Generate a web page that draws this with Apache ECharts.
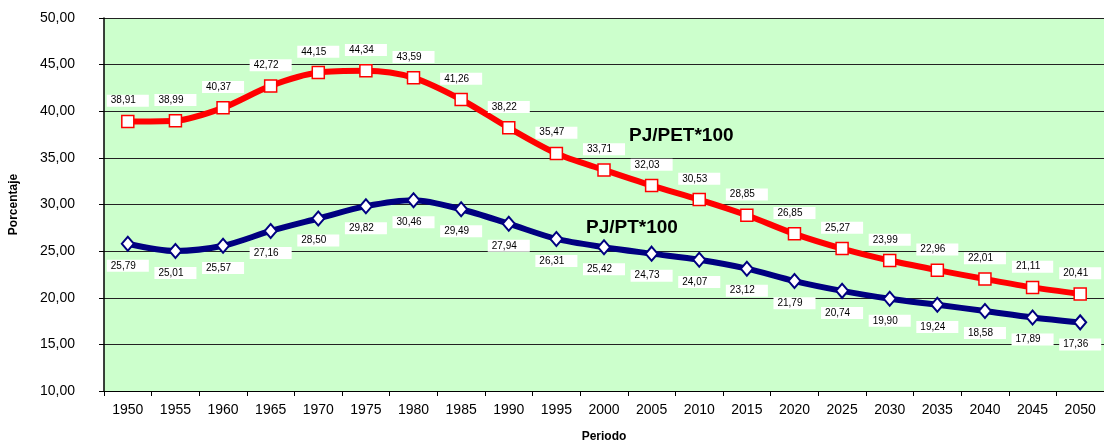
<!DOCTYPE html>
<html><head><meta charset="utf-8">
<script src="https://cdn.jsdelivr.net/npm/echarts@6/dist/echarts.min.js"></script>
<style>html,body{margin:0;padding:0;background:#fff}#c{width:1104px;height:448px}</style>
</head><body><div id="c"></div>
<script>
var categories = ['1950','1955','1960','1965','1970','1975','1980','1985','1990','1995','2000','2005','2010','2015','2020','2025','2030','2035','2040','2045','2050'];
var pjPet = [38.91,38.99,40.37,42.72,44.15,44.34,43.59,41.26,38.22,35.47,33.71,32.03,30.53,28.85,26.85,25.27,23.99,22.96,22.01,21.11,20.41];
var pjPt = [25.79,25.01,25.57,27.16,28.50,29.82,30.46,29.49,27.94,26.31,25.42,24.73,24.07,23.12,21.79,20.74,19.90,19.24,18.58,17.89,17.36];
var yMin = 10, yMax = 50, yStep = 5;
var FF = 'Arial, "Liberation Sans", sans-serif';
function fmt(v){ return v.toFixed(2).replace('.', ','); }
var chart = echarts.init(document.getElementById('c'), null, {renderer:'canvas'});
var lbl = {
  show:true, fontFamily:FF, fontSize:10, color:'#000', backgroundColor:'#fff',
  padding:[1,13,1,4], lineHeight:10, distance:8,
  formatter:function(p){ return fmt(p.value); }
};
chart.setOption({
  animation:false,
  grid:{left:104, right:0, top:18, bottom:56, show:true, backgroundColor:'#ccffcc', borderWidth:0},
  xAxis:{
    type:'category', data:categories, boundaryGap:true,
    name:'Periodo', nameLocation:'middle', nameGap:40,
    nameTextStyle:{fontFamily:FF, fontSize:12, fontWeight:'bold', color:'#000'},
    axisLine:{lineStyle:{color:'#000', width:1}},
    axisTick:{show:true, length:5, inside:false, lineStyle:{color:'#000'}},
    axisLabel:{fontFamily:FF, fontSize:14, color:'#000', margin:12},
    splitLine:{show:false}
  },
  yAxis:{
    type:'value', min:yMin, max:yMax, interval:yStep,
    name:'Porcentaje', nameLocation:'middle', nameGap:84, nameRotate:90,
    nameTextStyle:{fontFamily:FF, fontSize:12, fontWeight:'bold', color:'#000'},
    axisLine:{show:true, lineStyle:{color:'#000', width:1.5}},
    axisTick:{show:true, length:5, lineStyle:{color:'#000'}},
    axisLabel:{fontFamily:FF, fontSize:14, color:'#000', margin:29, formatter:function(v){return fmt(v);}},
    splitLine:{show:true, lineStyle:{color:'#222', width:1}}
  },
  series:[
    {
      name:'PJ/PT*100', type:'line', data:pjPt, smooth:0.3,
      lineStyle:{color:'#000080', width:6},
      itemStyle:{color:'#fff', borderColor:'#000080', borderWidth:2},
      symbol:'diamond', symbolSize:[12,14],
      label:Object.assign({}, lbl, {position:'bottom', distance:8}),
      z:2
    },
    {
      name:'PJ/PET*100', type:'line', data:pjPet, smooth:0.3,
      lineStyle:{color:'#ff0000', width:6},
      itemStyle:{color:'#fff', borderColor:'#ff0000', borderWidth:1.5},
      symbol:'rect', symbolSize:12,
      label:Object.assign({}, lbl, {position:'top', distance:8}),
      z:3
    }
  ],
  graphic:[
    {type:'text', left:629, top:126, style:{text:'PJ/PET*100', font:'bold 19px ' + FF, fill:'#000'}, z:10},
    {type:'text', left:586, top:218, style:{text:'PJ/PT*100', font:'bold 19px ' + FF, fill:'#000'}, z:10}
  ]
});
</script></body></html>
